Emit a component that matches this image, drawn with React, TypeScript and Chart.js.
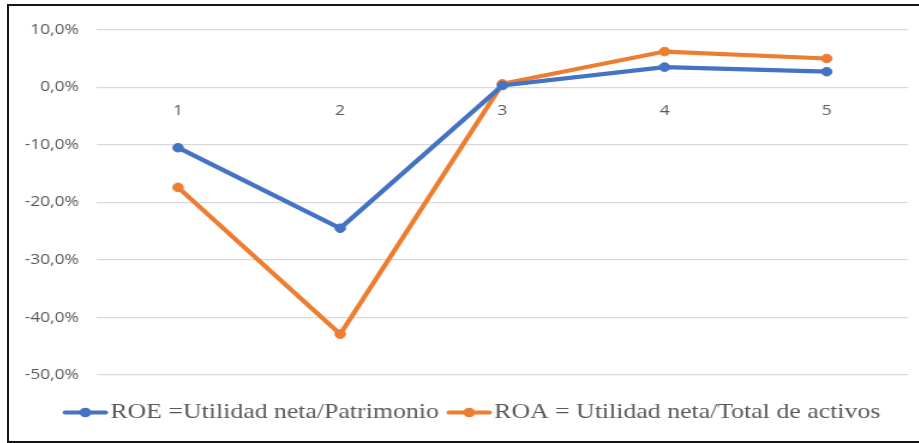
import React, { useEffect, useRef } from 'react';
import { Chart, registerables } from 'chart.js';

Chart.register(...registerables);

// ---- data ----
const categories = ['1', '2', '3', '4', '5'];
const roeValues = [-10.5, -24.5, 0.3, 3.5, 2.7];
const roaValues = [-17.4, -42.9, 0.6, 6.2, 5.0];
const seriesLabels = ['ROE =Utilidad neta/Patrimonio', 'ROA = Utilidad neta/Total de activos'];
const seriesColors = ['#4472C4', '#ED7D31'];
const yMin = -50;
const yMax = 10;
const yStep = 10;

// ---- layout ----
const STRETCH = 1.2;
const CANVAS_W = 758;
const CANVAS_H = 435;

const fmtPct = (v: number) => `${Number(v).toFixed(1).replace('.', ',')}%`;

const excelLegend = {
  id: 'excelLegend',
  afterDraw(chart: any) {
    const ctx = chart.ctx as CanvasRenderingContext2D;
    const ds = chart.data.datasets;
    const ca = chart.chartArea;
    ctx.save();
    ctx.font = '21.5px "Liberation Serif"';
    ctx.textBaseline = 'middle';
    ctx.textAlign = 'left';
    const lineLen = 36.7;
    const gap = 2.5;
    const itemGap = 7;
    const widths = ds.map((d: any) => ctx.measureText(d.label).width);
    const total =
      widths.reduce((a: number, w: number) => a + lineLen + gap + w, 0) + itemGap * (ds.length - 1);
    const cx = (ca.left + ca.right) / 2 - 25.5;
    let x = cx - total / 2;
    const y = ca.bottom + 37.5;
    ds.forEach((d: any, i: number) => {
      ctx.strokeStyle = d.borderColor;
      ctx.lineWidth = 4.2;
      ctx.lineCap = 'round';
      ctx.beginPath();
      ctx.moveTo(x + 1.5, y);
      ctx.lineTo(x + lineLen - 1.5, y);
      ctx.stroke();
      ctx.fillStyle = d.borderColor;
      ctx.beginPath();
      ctx.arc(x + lineLen / 2, y, 4.8, 0, Math.PI * 2);
      ctx.fill();
      ctx.fillStyle = '#595959';
      ctx.fillText(d.label, x + lineLen + gap, y);
      x += lineLen + gap + widths[i] + itemGap;
    });
    ctx.restore();
  },
};

export default function App() {
  const canvasRef = useRef<HTMLCanvasElement | null>(null);

  useEffect(() => {
    if (!canvasRef.current) return;
    const tickFont = { family: '"Open Sans"', size: 14.5 };
    const makeSet = (label: string, data: number[], color: string) => ({
      label,
      data,
      borderColor: color,
      backgroundColor: color,
      borderWidth: 4.2,
      pointRadius: 4.3,
      pointBorderWidth: 1,
      pointBackgroundColor: color,
      pointBorderColor: color,
      tension: 0,
    });
    const chart = new Chart(canvasRef.current, {
      type: 'line',
      data: {
        labels: categories,
        datasets: [
          makeSet(seriesLabels[0], roeValues, seriesColors[0]),
          makeSet(seriesLabels[1], roaValues, seriesColors[1]),
        ],
      },
      options: {
        animation: false,
        responsive: false,
        maintainAspectRatio: false,
        layout: { padding: { left: 13.3, right: 9, top: 21, bottom: 66 } },
        plugins: {
          legend: { display: false },
          tooltip: { enabled: false },
        },
        scales: {
          x: {
            type: 'category',
            position: { y: 0 } as any,
            offset: true,
            grid: { display: false, drawTicks: false },
            border: { display: false },
            ticks: { color: '#595959', font: tickFont, padding: 15, maxRotation: 0 },
          },
          y: {
            min: yMin,
            max: yMax,
            grid: { color: '#D9D9D9', lineWidth: 1.2, drawTicks: false },
            border: { display: false },
            ticks: {
              stepSize: yStep,
              color: '#595959',
              font: tickFont,
              padding: 15,
              callback: (v: any) => fmtPct(v),
            },
            afterFit: (s: any) => {
              s.width = 60;
            },
          },
        },
      },
      plugins: [excelLegend],
    });
    return () => chart.destroy();
  }, []);

  return (
    <>
      <style>{'body{margin:0;overflow:hidden;background:#fff}'}</style>
      <div
        style={{
          position: 'absolute',
          left: 7,
          top: 4,
          width: 912,
          height: CANVAS_H,
          borderTop: '2px solid #151515',
          borderLeft: '2px solid #151515',
          borderBottom: '2px solid #151515',
          background: '#fff',
          overflow: 'hidden',
        }}
      >
        <div
          style={{
            position: 'absolute',
            left: 0,
            top: 0,
            width: CANVAS_W,
            height: CANVAS_H,
            transform: `scaleX(${STRETCH})`,
            transformOrigin: '0 0',
          }}
        >
          <canvas
            ref={canvasRef}
            width={CANVAS_W}
            height={CANVAS_H}
            style={{ display: 'block', width: CANVAS_W, height: CANVAS_H }}
          />
        </div>
      </div>
    </>
  );
}
